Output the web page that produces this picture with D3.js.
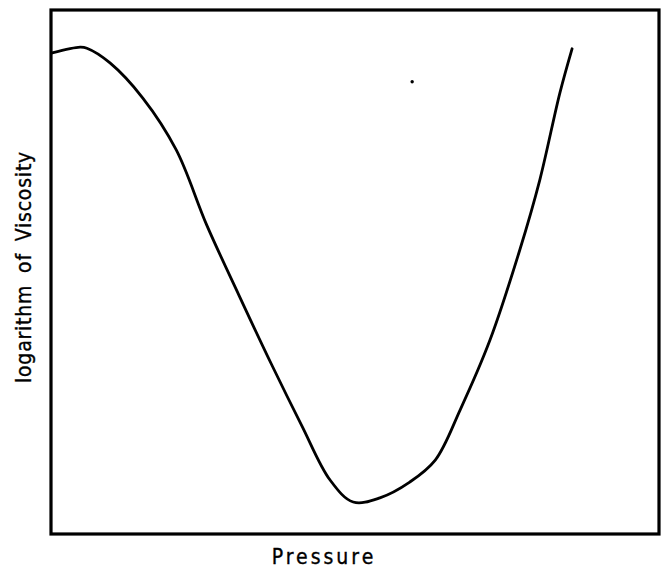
<!DOCTYPE html>
<html>
<head>
<meta charset="utf-8">
<script src="https://cdn.jsdelivr.net/npm/d3@7"></script>
<style>
  html, body { margin: 0; padding: 0; background: #fff; }
  svg { display: block; }
  .label {
    font-family: "DejaVu Sans Condensed", "DejaVu Sans", sans-serif;
    font-size: 21px; fill: #000; stroke: #000; stroke-width: 0.35px;
  }
</style>
</head>
<body>
<svg id="chart" width="661" height="568"></svg>
<script>
// Pressure (relative units) and logarithm of viscosity (relative units)
const pressure = [0.2, 4.8, 5.9, 9.7, 15.1, 20.6, 25.6, 30.9, 36.3, 41.2, 45.9, 49.7, 54.1, 59.0, 63.2, 67.3, 72.2, 77.1, 80.4, 83.7, 85.7];
const logViscosity = [91.8, 92.9, 92.7, 89.9, 83.2, 73.3, 59.0, 45.6, 32.3, 20.8, 10.3, 6.1, 6.9, 9.9, 14.1, 23.7, 37.0, 54.2, 67.6, 84.2, 92.6];
const speck = [[59.4, 86.3]];
const xTitle = "Pressure";
const yTitle = "logarithm of Viscosity";

const svg = d3.select("#chart");
const frame = { left: 51, right: 659, top: 10, bottom: 534 };

const x = d3.scaleLinear().domain([0, 100]).range([frame.left, frame.right]);
const y = d3.scaleLinear().domain([0, 100]).range([frame.bottom, frame.top]);

// frame
svg.append("rect")
  .attr("x", frame.left).attr("y", frame.top)
  .attr("width", frame.right - frame.left).attr("height", frame.bottom - frame.top)
  .attr("fill", "none").attr("stroke", "#000").attr("stroke-width", 3.2);

const pts = pressure.map((p, i) => [p, logViscosity[i]]);
const line = d3.line().x(d => x(d[0])).y(d => y(d[1])).curve(d3.curveCatmullRom.alpha(0.5));

svg.append("path")
  .datum(pts)
  .attr("d", line)
  .attr("fill", "none")
  .attr("stroke", "#000")
  .attr("stroke-width", 2.8)
  .attr("stroke-linejoin", "round")
  .attr("stroke-linecap", "round");

svg.selectAll("circle.speck").data(speck).join("circle")
  .attr("class", "speck")
  .attr("cx", d => x(d[0])).attr("cy", d => y(d[1])).attr("r", 1.7).attr("fill", "#000");

svg.append("text")
  .attr("class", "label")
  .attr("x", 324).attr("y", 564)
  .attr("text-anchor", "middle")
  .attr("letter-spacing", "3px")
  .text(xTitle);

svg.append("text")
  .attr("class", "label")
  .attr("transform", "translate(31,267) rotate(-90)")
  .attr("text-anchor", "middle")
  .attr("letter-spacing", "0.8px")
  .attr("word-spacing", "5px")
  .text(yTitle);
</script>
</body>
</html>
